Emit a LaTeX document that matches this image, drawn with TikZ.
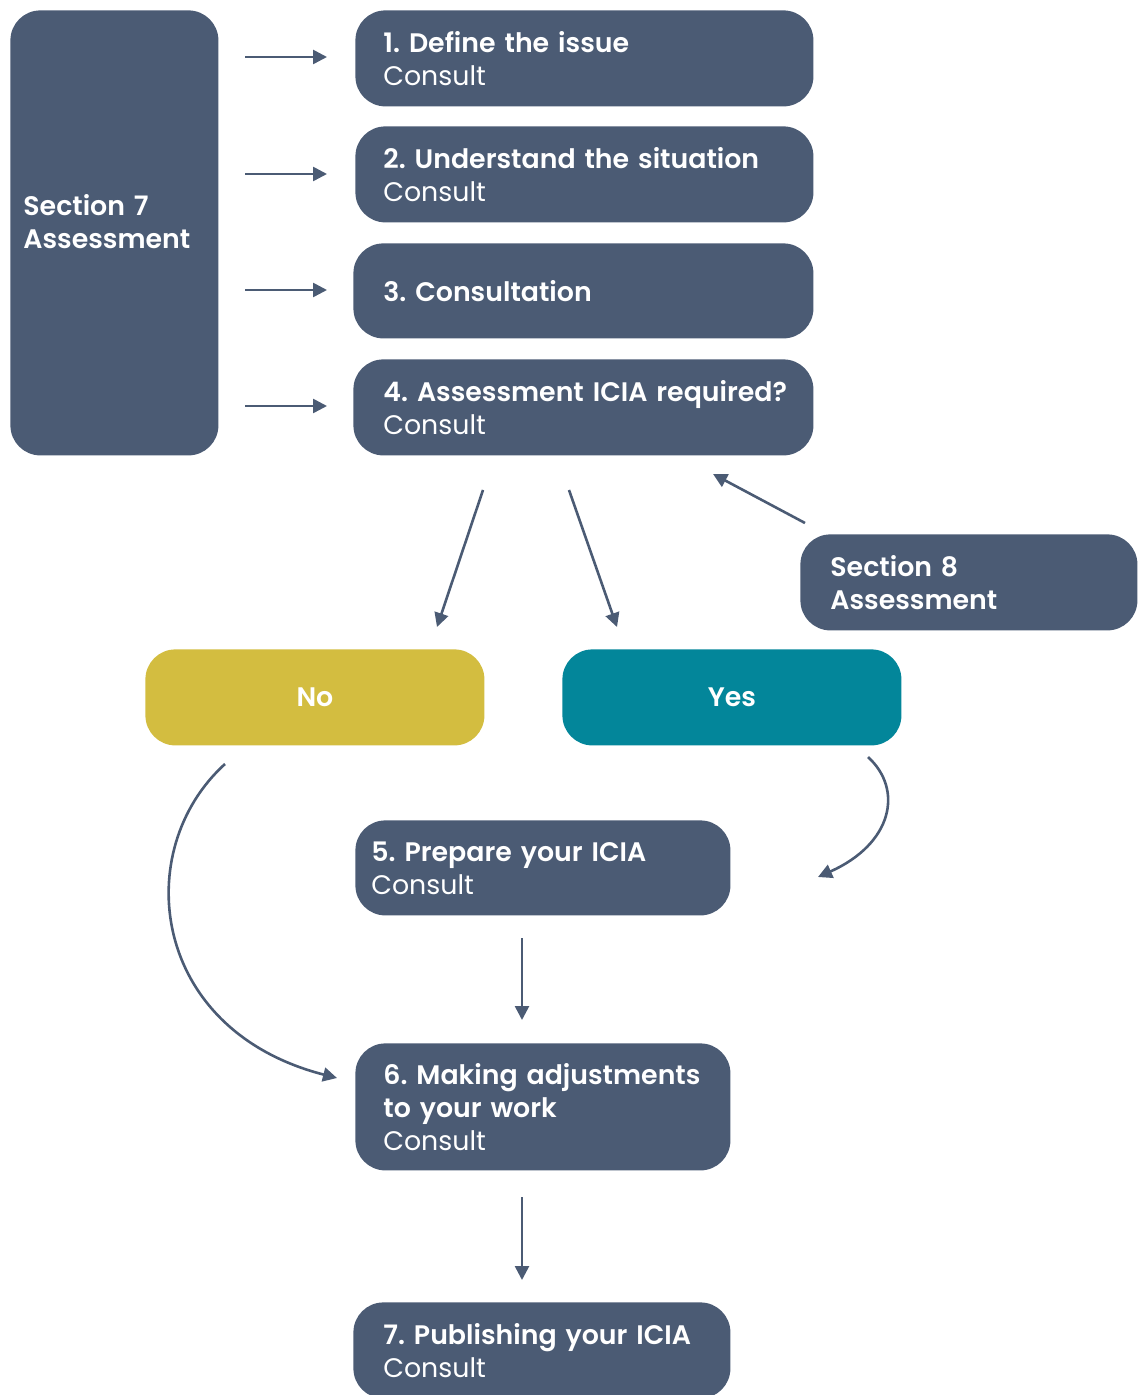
\documentclass[tikz,border=0pt]{standalone}
\usepackage{fontspec}
\setmainfont{Poppins}[BoldFont={Poppins SemiBold}]
\usetikzlibrary{arrows.meta}
\definecolor{boxblue}{HTML}{4B5B74}
\definecolor{noyellow}{HTML}{D3BD40}
\definecolor{yesteal}{HTML}{03869A}
\frenchspacing
\hbadness=10000 \hfuzz=20pt
\tikzset{
  card/.style={rectangle, rounded corners=15pt, fill=boxblue, text=white, anchor=north west,
    inner ysep=0pt, align=left, font=\fontsize{13.4}{16.5}\selectfont},
  choice/.style={rectangle, rounded corners=15pt, text=white, anchor=north west,
    inner ysep=0pt, align=center, font=\fontsize{13.4}{16.5}\selectfont\bfseries,
    minimum width=169.5pt, minimum height=48pt},
  flow/.style={draw=boxblue, line width=1.3pt, -{Triangle[length=7pt,width=7pt]}}
}
\begin{document}
\begin{tikzpicture}
\useasboundingbox (0,0) rectangle (568.5pt,-697.5pt);
% left section box
\node[card, text width=91pt, inner xsep=6.5pt, minimum height=222.5pt] (s7) at (5pt,-5pt)
  {\textbf{Section 7}\\\textbf{Assessment}\par\vspace{11pt}};
\node[card, text width=201pt, inner xsep=14pt, minimum height=48pt] (b1) at (177.5pt,-5pt)
  {\textbf{1. Define the issue}\\Consult};
\node[card, text width=201pt, inner xsep=14pt, minimum height=48pt] (b2) at (177.5pt,-63pt)
  {\mbox{\textbf{2. Understand the situation}}\\Consult};
\node[card, text width=200pt, inner xsep=15pt, minimum height=47.5pt] (b3) at (176.5pt,-121.5pt)
  {\textbf{3. Consultation}};
\node[card, text width=200pt, inner xsep=15pt, minimum height=48pt] (b4) at (176.5pt,-179.5pt)
  {\mbox{\textbf{4. Assessment ICIA required?}}\\Consult};
\node[card, text width=138.5pt, inner xsep=15pt, minimum height=48pt] (s8) at (400pt,-267pt)
  {\textbf{Section 8}\\\textbf{Assessment}};
\node[choice, fill=noyellow] (no) at (72.5pt,-324.5pt) {No};
\node[choice, fill=yesteal] (yes) at (281pt,-324.5pt) {Yes};
\node[card, text width=171.5pt, inner xsep=8pt, minimum height=47.5pt] (b5) at (177.5pt,-410pt)
  {\textbf{5. Prepare your ICIA}\\Consult};
\node[card, text width=159.5pt, inner xsep=14pt, minimum height=63.5pt] (b6) at (177.5pt,-521.5pt)
  {\mbox{\textbf{6. Making adjustments}}\\\textbf{to your work}\\Consult};
\node[card, text width=158.5pt, inner xsep=15pt, minimum height=48pt] (b7) at (176.5pt,-651pt)
  {\mbox{\textbf{7. Publishing your ICIA}}\\Consult};
% arrow end points
\coordinate (a1s) at (122.5pt,-28.5pt); \coordinate (a1e) at (163.5pt,-28.5pt);
\coordinate (a2s) at (122.5pt,-87pt);   \coordinate (a2e) at (163.5pt,-87pt);
\coordinate (a3s) at (122.5pt,-145pt);  \coordinate (a3e) at (163.5pt,-145pt);
\coordinate (a4s) at (122.5pt,-203pt);  \coordinate (a4e) at (163.5pt,-203pt);
\coordinate (s8s) at (402.5pt,-261.5pt); \coordinate (s8e) at (356.5pt,-237pt);
\coordinate (nos) at (241.5pt,-245pt);  \coordinate (noe) at (218.5pt,-313.5pt);
\coordinate (yess) at (284.5pt,-245pt); \coordinate (yese) at (308.5pt,-313.5pt);
\coordinate (c56s) at (261pt,-469pt);   \coordinate (c56e) at (261pt,-510pt);
\coordinate (c67s) at (261pt,-598.5pt); \coordinate (c67e) at (261pt,-640pt);
\coordinate (ncs) at (112.5pt,-382pt);  \coordinate (nce) at (168.5pt,-539pt);
\coordinate (ycs) at (434pt,-378.5pt);  \coordinate (yce) at (409pt,-438.5pt);
\draw[flow] (a1s) -- (a1e);
\draw[flow] (a2s) -- (a2e);
\draw[flow] (a3s) -- (a3e);
\draw[flow] (a4s) -- (a4e);
\draw[flow] (s8s) -- (s8e);
\draw[flow] (nos) -- (noe);
\draw[flow] (yess) -- (yese);
\draw[flow] (c56s) -- (c56e);
\draw[flow] (c67s) -- (c67e);
\draw[flow] (ncs) .. controls (65pt,-425pt) and (75pt,-515pt) .. (nce);
\draw[flow] (ycs) .. controls (452pt,-395pt) and (446pt,-422pt) .. (yce);
\end{tikzpicture}
\end{document}
